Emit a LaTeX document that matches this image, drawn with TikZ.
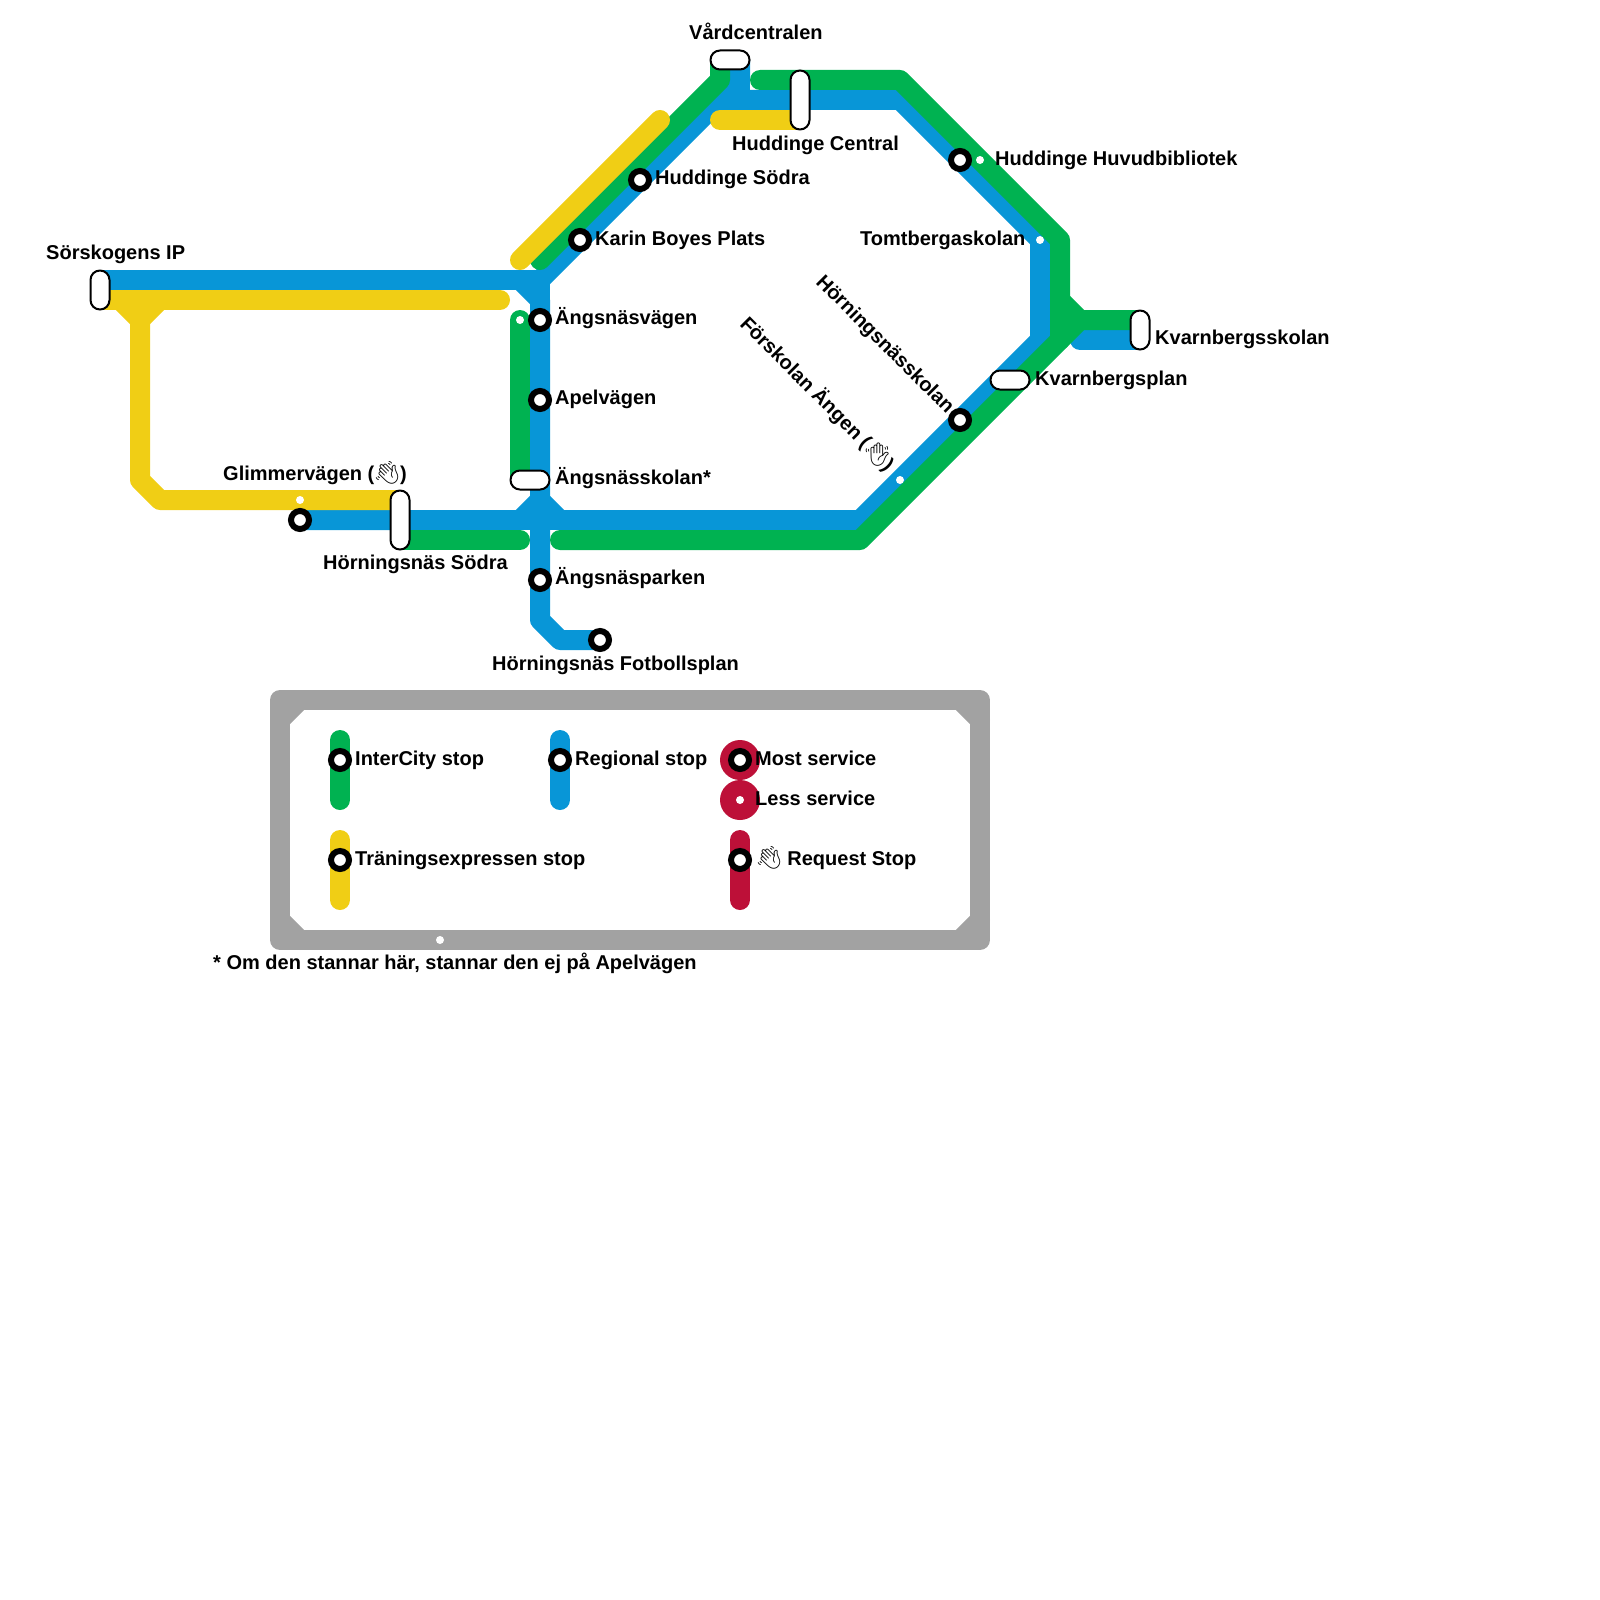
\documentclass[tikz,border=0pt]{standalone}
\usepackage{fontspec}
\setmainfont{Liberation Sans}
\newfontfamily\emojifont[Scale=1.12]{Noto Emoji}
\usetikzlibrary{positioning}
\definecolor{metroblue}{HTML}{0896D7}
\definecolor{metrogreen}{HTML}{00B251}
\definecolor{metroyellow}{HTML}{F0CE15}
\definecolor{metrored}{HTML}{BD1038}
\definecolor{metrogray}{HTML}{A2A2A2}
\newcommand{\wave}{\hspace{-1.4pt}{\emojifont\symbol{"1F44B}}\hspace{-1.4pt}}
\tikzset{route/.style={line width=20pt,line cap=round,line join=round},
  blueline/.style={route,draw=metroblue},greenline/.style={route,draw=metrogreen},
  yellowline/.style={route,draw=metroyellow},redline/.style={route,draw=metrored},
  frameline/.style={route,draw=metrogray},
  stn/.style={circle,draw=black,fill=white,line width=6pt,minimum size=18pt,inner sep=0pt},
  dotstn/.style={circle,fill=white,minimum size=8pt,inner sep=0pt},
  bigstn/.style={circle,fill=metrored,minimum size=40pt,inner sep=0pt},
  pill/.style={draw=black,fill=white,line width=2pt,rounded corners=9.4pt,inner sep=0pt},
  pillv/.style={pill,minimum width=19pt},pillh/.style={pill,minimum width=39pt,minimum height=19pt},
  lbl/.style={font=\bfseries\fontsize{20pt}{24pt}\selectfont,inner sep=0pt,anchor=base west}}
\begin{document}
\begin{tikzpicture}[x=1pt,y=-1pt]
\useasboundingbox (0,0) rectangle (1600,1600);
\foreach \n/\x/\y in {ba/100/280,bb/520/280,bc/540/300,bd/540/500,be/520/520,bf/300/520,
  bg/600/640,bh/560/640,bi/540/620,bj/560/520,bk/860/520,bl/1040/340,bm/1040/240,bn/900/100,
  bo/720/100,bp/540/280,bq/740/80,br/740/60,bs/1080/340,bt/1140/340,bu/740/100,
  ga/540/260,gb/720/80,gc/720/60,gd/760/80,ge/900/80,gf/1060/240,gg/1060/340,gh/860/540,
  gi/560/540,gj/1080/320,gk/1140/320,gl/1060/300,gm/520/320,gn/520/480,go/400/540,gp/520/540,
  ya/100/300,yb/500/300,yc/120/300,yd/140/320,ye/140/480,yf/160/500,yg/400/500,yh/160/300,
  yi/520/260,yj/660/120,yk/720/120,yl/800/120,
  fa/280/700,fb/980/700,fc/980/940,fd/280/940,fe/280/720,ff/300/700,fg/960/700,fh/980/720,
  fi/980/920,fj/960/940,fk/300/940,fl/280/920}
  \coordinate (\n) at (\x,\y);
% blue
\draw[blueline] (ba)--(bp)--(bc);
\draw[blueline] (bb)--(bc)--(bd)--(be)--(bf);
\draw[blueline] (bg)--(bh)--(bi)--(bd)--(bj)--(bk)--(bl)--(bm)--(bn)--(bo);
\draw[blueline] (bp)--(bq)--(br);
\draw[blueline] (bq)--(bu);
\draw[blueline] (be)--(bj);
\draw[blueline] (bs)--(bt);
% green
\draw[greenline] (ga)--(gb)--(gc);
\draw[greenline] (gd)--(ge)--(gf)--(gg)--(gh)--(gi);
\draw[greenline] (gl)--(gj)--(gk);
\draw[greenline] (gg)--(gj);
\draw[greenline] (gm)--(gn);
\draw[greenline] (go)--(gp);
% yellow
\draw[yellowline] (ya)--(yb);
\draw[yellowline] (yc)--(yd)--(ye)--(yf)--(yg);
\draw[yellowline] (yh)--(yd);
\draw[yellowline] (yi)--(yj);
\draw[yellowline] (yk)--(yl);
% legend frame
\draw[frameline] (fa)--(fb)--(fc)--(fd)--cycle;
\draw[frameline] (fe)--(ff);\draw[frameline] (fg)--(fh);\draw[frameline] (fi)--(fj);\draw[frameline] (fk)--(fl);
\coordinate (ka) at (340,740);\coordinate (kb) at (340,800);
\coordinate (kc) at (560,740);\coordinate (kd) at (560,800);
\coordinate (ke) at (340,840);\coordinate (kf) at (340,900);
\coordinate (kg) at (740,840);\coordinate (kh) at (740,900);
\draw[greenline] (ka)--(kb);\draw[blueline] (kc)--(kd);
\draw[yellowline] (ke)--(kf);\draw[redline] (kg)--(kh);
\node[bigstn] (most) at (740,760) {};
\node[bigstn] (less) at (740,800) {};
% stops
\foreach \n/\x/\y in {glimmer/300/520,hsodra/640/180,karin/580/240,vagen/540/320,apel/540/400,
  parken/540/580,fotboll/600/640,huvud/960/160,horning/960/420,kinter/340/760,kreg/560/760,
  kmost/740/760,ktran/340/860,kreq/740/860}
  \node[stn] (\n) at (\x,\y) {};
\foreach \n/\x/\y in {dglimmer/300/500,dvagen/520/320,dhuvud/980/160,dtomt/1040/240,
  dforskolan/900/480,dless/740/800,dframe/440/940}
  \node[dotstn] (\n) at (\x,\y) {};
\node[pillv,minimum height=39pt] (sorskogen) at (100,290) {};
\node[pillv,minimum height=59pt] (hsodrapill) at (400,520) {};
\node[pillv,minimum height=59pt] (central) at (800,100) {};
\node[pillv,minimum height=39pt] (kskolan) at (1140,330) {};
\node[pillh] (vard) at (730,60) {};
\node[pillh] (askolan) at (530,480) {};
\node[pillh] (kplan) at (1010,380) {};
% labels
\node[lbl] (tsorskogen) at (46,259) {Sörskogens IP};
\node[lbl] (tvard) at (689,40) {Vårdcentralen};
\node[lbl] (tcentral) at (732,150) {Huddinge Central};
\node[lbl] (thsodra) at (655,184) {Huddinge Södra};
\node[lbl] (tkarin) at (595,245) {Karin Boyes Plats};
\node[lbl] (thuvud) at (995,165) {Huddinge Huvudbibliotek};
\node[lbl] (ttomt) at (860,245) {Tomtbergaskolan};
\node[lbl] (tkskolan) at (1155,344) {Kvarnbergsskolan};
\node[lbl] (tkplan) at (1035,385) {Kvarnbergsplan};
\node[lbl] (tvagen) at (555,324) {Ängsnäsvägen};
\node[lbl] (tapel) at (555,404) {Apelvägen};
\node[lbl] (taskolan) at (555,484) {Ängsnässkolan*};
\node[lbl] (tparken) at (555,584) {Ängsnäsparken};
\node[lbl] (tfotboll) at (492,670) {Hörningsnäs Fotbollsplan};
\node[lbl] (tsodra) at (323,569) {Hörningsnäs Södra};
\node[lbl] (tglimmer) at (223,480) {Glimmervägen (\wave)};
\node[lbl,rotate=-45] (thorning) at (815,283) {Hörningsnässkolan};
\node[lbl,rotate=-45] (tforskolan) at (739,325) {Förskolan Ängen (\wave)};
\node[lbl] (tinter) at (355,765) {InterCity stop};
\node[lbl] (treg) at (575,765) {Regional stop};
\node[lbl] (tmost) at (755,765) {Most service};
\node[lbl] (tless) at (755,805) {Less service};
\node[lbl] (ttran) at (355,865) {Träningsexpressen stop};
\node[lbl] (treq) at (756,865) {\wave{} Request Stop};
\node[lbl] (tnote) at (213,969) {* Om den stannar här, stannar den ej på Apelvägen};
\end{tikzpicture}
\end{document}
